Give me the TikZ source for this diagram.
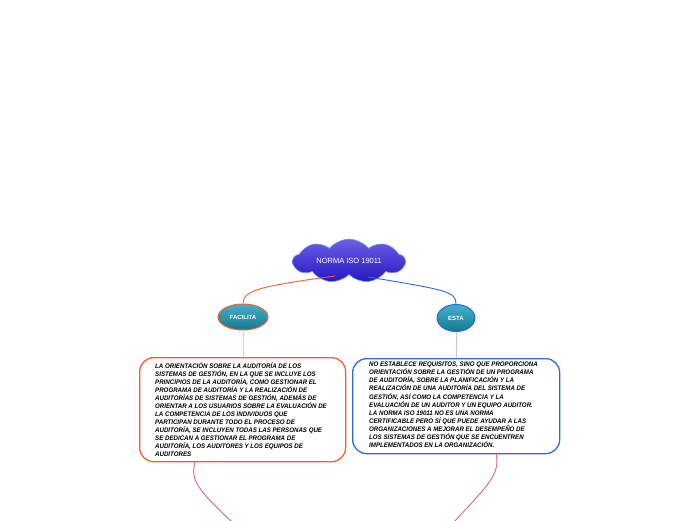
\documentclass[tikz,border=0pt]{standalone}
\usepackage{fontspec}
\setmainfont{Liberation Sans}
\newfontfamily\boxfont[FakeStretch=0.93]{Liberation Sans}
\usetikzlibrary{shapes.symbols,shapes.geometric}
\definecolor{orangeline}{HTML}{F0602E}
\definecolor{blueline}{HTML}{2A6DD8}
\definecolor{pinkline}{HTML}{D8687A}
\definecolor{tealtop}{HTML}{45AFC8}
\definecolor{tealbot}{HTML}{17788F}
\definecolor{cloudtop}{HTML}{6E5EE6}
\definecolor{cloudbot}{HTML}{2616C4}
\tikzset{
  topicbox/.style={draw, line width=1.3pt, rounded corners=14pt, inner sep=0pt, anchor=north west},
  oval/.style={ellipse, draw, line width=1pt, top color=tealtop, bottom color=tealbot, text=white, font=\bfseries\fontsize{6}{7}\selectfont, inner sep=0pt},
  boxtext/.style={anchor=north west, align=left, inner sep=0pt, font=\boxfont\bfseries\itshape\fontsize{6.6}{8.05}\selectfont},
  conn/.style={line width=0.9pt},
}
\begin{document}
\begin{tikzpicture}[x=1pt,y=-1pt]
\useasboundingbox (0,0) rectangle (696,520);
\clip (0,0) rectangle (696,520);
% cloud
\node[cloud, cloud puffs=9, cloud puff arc=100, aspect=3, draw=blueline!70, line width=0.6pt,
  top color=cloudtop, bottom color=cloudbot, minimum width=112pt, minimum height=40pt,
  inner sep=0pt, text=white, font=\fontsize{7.5}{9}\selectfont] (root) at (349,261) {NORMA ISO 19011};
% ovals
\node[oval, draw=orangeline, minimum width=50pt, minimum height=26pt] (fac) at (243,317) {FACILITA};
\node[oval, draw=blueline, minimum width=38pt, minimum height=27pt] (esta) at (456,318) {ESTA};
% boxes
\node[topicbox, draw=orangeline, minimum width=206pt, minimum height=104pt] (lbox) at (139,357) {};
\node[topicbox, draw=blueline, minimum width=207pt, minimum height=95pt] (rbox) at (352,358) {};
\node[boxtext] (ltext) at (155,362) {LA ORIENTACIÓN SOBRE LA AUDITORÍA DE LOS\\
SISTEMAS DE GESTIÓN, EN LA QUE SE INCLUYE LOS\\
PRINCIPIOS DE LA AUDITORÍA, COMO GESTIONAR EL\\
PROGRAMA DE AUDITORÍA Y LA REALIZACIÓN DE\\
AUDITORÍAS DE SISTEMAS DE GESTIÓN, ADEMÁS DE\\
ORIENTAR A LOS USUARIOS SOBRE LA EVALUACIÓN DE\\
LA COMPETENCIA DE LOS INDIVIDUOS QUE\\
PARTICIPAN DURANTE TODO EL PROCESO DE\\
AUDITORÍA, SE INCLUYEN TODAS LAS PERSONAS QUE\\
SE DEDICAN A GESTIONAR EL PROGRAMA DE\\
AUDITORÍA, LOS AUDITORES Y LOS EQUIPOS DE\\
AUDITORES};
\node[boxtext] (rtext) at (369,362) {NO ESTABLECE REQUISITOS, SINO QUE PROPORCIONA\\
ORIENTACIÓN SOBRE LA GESTIÓN DE UN PROGRAMA\\
DE AUDITORÍA, SOBRE LA PLANIFICACIÓN Y LA\\
REALIZACIÓN DE UNA AUDITORÍA DEL SISTEMA DE\\
GESTIÓN, ASÍ COMO LA COMPETENCIA Y LA\\
EVALUACIÓN DE UN AUDITOR Y UN EQUIPO AUDITOR.\\
LA NORMA ISO 19011 NO ES UNA NORMA\\
CERTIFICABLE PERO SÍ QUE PUEDE AYUDAR A LAS\\
ORGANIZACIONES A MEJORAR EL DESEMPEÑO DE\\
LOS SISTEMAS DE GESTIÓN QUE SE ENCUENTREN\\
IMPLEMENTADOS EN LA ORGANIZACIÓN.};
% connectors
\coordinate (rootl) at (335,276);
\coordinate (rootr) at (368,277);
\draw[conn, orangeline] (rootl) .. controls (262,286) and (243,290) .. (fac.north);
\draw[conn, blueline] (rootr) .. controls (448,290) and (456,292) .. (esta.north);
\draw[conn, orangeline!35] (fac.south) -- (fac.south |- lbox.north);
\draw[conn, blueline!35] (esta.south) -- (esta.south |- rbox.north);
\coordinate (lend) at (232,522);
\coordinate (rend) at (454,522);
\draw[conn, pinkline] ([xshift=56pt]lbox.south west) .. controls (190,480) and (198,490) .. (lend);
\draw[conn, pinkline] ([xshift=-64pt]rbox.south east) .. controls (500,475) and (488,485) .. (rend);
\end{tikzpicture}
\end{document}
